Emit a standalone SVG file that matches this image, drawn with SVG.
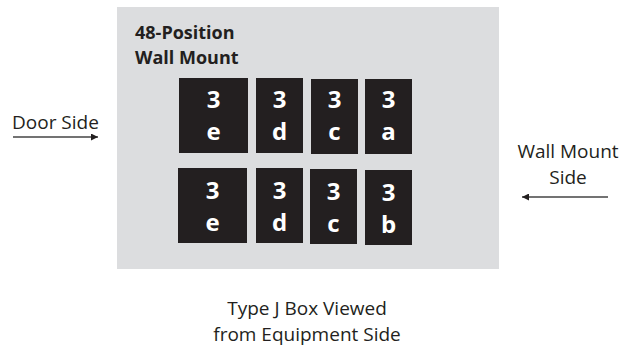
<svg xmlns="http://www.w3.org/2000/svg" width="637" height="349" viewBox="0 0 637 349">
<style>
.t{font-family:"Open Sans","Liberation Sans",sans-serif;fill:#231f20;font-size:19px}
.b{font-family:"Open Sans","Liberation Sans",sans-serif;font-weight:bold}
.ttl{font-size:18px;fill:#231f20}
.m{fill:#231f20}
.ml{font-size:24px;fill:#fff;text-anchor:middle}
.ar{stroke:#444;stroke-width:1.3;fill:none}
</style>
<defs>
<marker id="ah" viewBox="0 0 10 10" refX="10" refY="5" markerWidth="7" markerHeight="7" markerUnits="userSpaceOnUse" orient="auto">
<path d="M0,0 L10,5 L0,10 z" fill="#231f20"/>
</marker>
</defs>
<g id="box">
<rect x="117" y="7" width="382" height="262" fill="#dcdddf"/>
<text class="b ttl" x="135" y="39">48-Position</text>
<text class="b ttl" x="135" y="64">Wall Mount</text>
</g>
<g id="m3e-top"><rect class="m" x="179" y="78" width="69" height="75"/><text class="b ml" x="213.5" y="108">3</text><text class="b ml" x="213.5" y="140">e</text></g>
<g id="m3d-top"><rect class="m" x="256" y="78" width="47" height="75"/><text class="b ml" x="279.5" y="108">3</text><text class="b ml" x="279.5" y="140">d</text></g>
<g id="m3c-top"><rect class="m" x="311" y="79" width="47" height="75"/><text class="b ml" x="334.5" y="108">3</text><text class="b ml" x="334.5" y="140">c</text></g>
<g id="m3a"><rect class="m" x="365" y="79" width="47" height="75"/><text class="b ml" x="388.5" y="108">3</text><text class="b ml" x="388.5" y="140">a</text></g>
<g id="m3e-bot"><rect class="m" x="178" y="168" width="69" height="75"/><text class="b ml" x="212.5" y="199">3</text><text class="b ml" x="212.5" y="231">e</text></g>
<g id="m3d-bot"><rect class="m" x="256" y="168" width="47" height="75"/><text class="b ml" x="279.5" y="199">3</text><text class="b ml" x="279.5" y="231">d</text></g>
<g id="m3c-bot"><rect class="m" x="310" y="169" width="47" height="75"/><text class="b ml" x="333.5" y="200">3</text><text class="b ml" x="333.5" y="232">c</text></g>
<g id="m3b"><rect class="m" x="365" y="170" width="47" height="75"/><text class="b ml" x="388.5" y="201">3</text><text class="b ml" x="388.5" y="233">b</text></g>
<g id="door-side"><text class="t" x="12" y="129">Door Side</text></g>
<g id="wall-side"><text class="t" x="568" y="158" text-anchor="middle">Wall Mount</text><text class="t" x="568" y="184" text-anchor="middle">Side</text></g>
<g id="caption"><text class="t" x="307" y="315" text-anchor="middle">Type J Box Viewed</text><text class="t" x="307" y="341" text-anchor="middle">from Equipment Side</text></g>
<g id="connectors">
<line class="ar" x1="13" y1="137" x2="98" y2="137" marker-end="url(#ah)"/>
<line class="ar" x1="608" y1="197" x2="522" y2="197" marker-end="url(#ah)"/>
</g>
</svg>
